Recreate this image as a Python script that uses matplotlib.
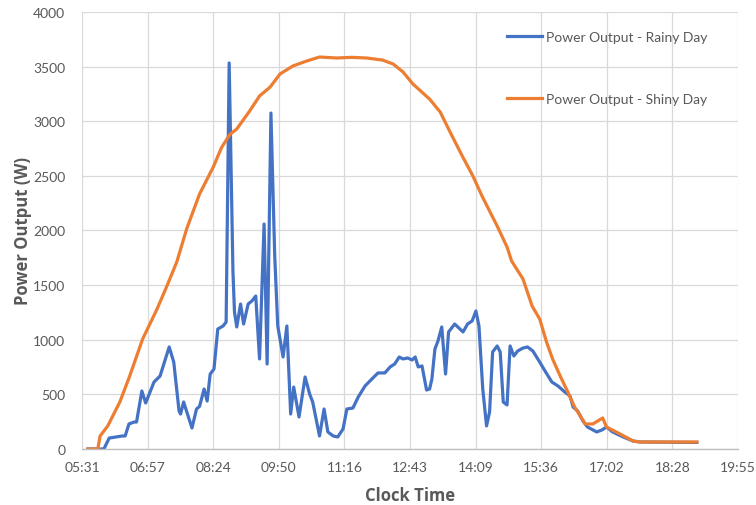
import matplotlib
matplotlib.use("Agg")
import matplotlib.pyplot as plt

# readings taken off the reference chart (clock time, watts)
rainy_time = [
    "05:39", "06:00", "06:07", "06:24", "06:28", "06:33", "06:40", "06:43",
    "06:50", "06:55", "07:06", "07:14", "07:26", "07:32", "07:39", "07:41",
    "07:45", "07:56", "08:02", "08:06", "08:12", "08:16", "08:20", "08:25",
    "08:30", "08:37", "08:41", "08:45", "08:50", "08:52", "08:55", "09:00",
    "09:04", "09:10", "09:15", "09:20", "09:25", "09:31", "09:35", "09:40",
    "09:45", "09:49", "09:56", "10:01", "10:06", "10:10", "10:17", "10:25",
    "10:31", "10:35", "10:44", "10:50", "10:55", "11:02", "11:08", "11:15",
    "11:20", "11:28", "11:35", "11:44", "11:53", "12:01", "12:10", "12:17",
    "12:23", "12:29", "12:34", "12:40", "12:46", "12:50", "12:54", "12:59",
    "13:05", "13:09", "13:12", "13:16", "13:20", "13:25", "13:30", "13:34",
    "13:42", "13:49", "13:53", "13:59", "14:05", "14:10", "14:14", "14:19",
    "14:24", "14:28", "14:32", "14:38", "14:42", "14:46", "14:51", "14:55",
    "15:00", "15:05", "15:12", "15:18", "15:25", "15:34", "15:41", "15:50",
    "15:58", "16:07", "16:14", "16:18", "16:24", "16:31", "16:37", "16:49",
    "16:56", "17:02", "17:10", "17:24", "17:37", "17:46", "19:01",
]
rainy_power = [
    0, 0, 100, 119, 119, 229, 247, 247,
    531, 421, 613, 668, 934, 796, 348, 320,
    430, 192, 366, 390, 549, 439, 686, 732,
    1098, 1126, 1162, 3533, 1620, 1254, 1117, 1327,
    1144, 1327, 1355, 1400, 824, 2059, 778, 3075,
    1767, 1126, 842, 1126, 320, 567, 293, 659,
    503, 430, 119, 366, 156, 119, 110, 183,
    366, 375, 476, 577, 641, 696, 696, 751,
    778, 842, 824, 833, 815, 842, 751, 760,
    540, 549, 641, 915, 988, 1117, 686, 1071,
    1144, 1098, 1071, 1144, 1172, 1263, 1126, 549,
    211, 339, 888, 943, 888, 430, 403, 943,
    851, 897, 924, 934, 897, 796, 714, 613,
    577, 522, 485, 384, 348, 256, 201, 156,
    174, 201, 156, 110, 73, 64, 60,
]

shiny_time = [
    "05:39", "05:52", "05:55", "06:05", "06:21", "06:34", "06:51", "07:10",
    "07:23", "07:36", "07:49", "08:06", "08:24", "08:35", "08:46", "08:55",
    "09:12", "09:25", "09:39", "09:52", "10:09", "10:27", "10:44", "11:07",
    "11:26", "11:46", "12:07", "12:21", "12:34", "12:47", "13:09", "13:23",
    "13:36", "13:52", "14:06", "14:18", "14:38", "14:51", "14:57", "15:12",
    "15:24", "15:34", "15:43", "15:51", "16:01", "16:11", "16:20", "16:34",
    "16:44", "16:57", "17:02", "17:20", "17:37", "17:46", "19:01",
]
shiny_power = [
    0, 0, 119, 210, 430, 668, 1006, 1281,
    1492, 1712, 2014, 2334, 2580, 2760, 2880, 2929,
    3094, 3231, 3313, 3433, 3506, 3551, 3588, 3579,
    3585, 3579, 3560, 3524, 3451, 3341, 3203, 3084,
    2901, 2682, 2499, 2316, 2041, 1849, 1721, 1556,
    1309, 1190, 979, 824, 668, 522, 384, 229,
    229, 284, 201, 137, 73, 64, 64,
]

tick_labels = ["05:31", "06:57", "08:24", "09:50", "11:16", "12:43",
               "14:09", "15:36", "17:02", "18:28", "19:55"]


def to_minutes(stamp):
    h, m = stamp.split(":")
    return int(h) * 60 + int(m)


def main():
    plt.rcParams["font.family"] = ["Lato", "DejaVu Sans"]
    grey = "#595959"
    title_font = ["Open Sans", "DejaVu Sans"]

    fig = plt.figure(figsize=(7.56, 5.06), dpi=100)
    ax = fig.add_axes([0.1085, 0.1107, 0.8677, 0.8636])

    ax.plot([to_minutes(t) for t in rainy_time], rainy_power,
            color="#4472C4", lw=2.3, solid_joinstyle="round",
            label="Power Output - Rainy Day")
    ax.plot([to_minutes(t) for t in shiny_time], shiny_power,
            color="#ED7D31", lw=2.3, solid_joinstyle="round",
            label="Power Output - Shiny Day")

    # excel date axis: major unit 0.06 day = 86.4 min starting 05:31
    start = 331.2
    ticks = [start + 86.4 * i for i in range(len(tick_labels))]
    ax.set_xlim(ticks[0], ticks[-1])
    ax.set_xticks(ticks)
    ax.set_xticklabels(tick_labels)
    ax.set_ylim(0, 4000)
    ax.set_yticks(range(0, 4001, 500))

    ax.grid(True, color="#d9d9d9", lw=0.9)
    ax.set_axisbelow(True)
    for side in ["left", "right", "top"]:
        ax.spines[side].set_visible(False)
    ax.spines["bottom"].set_color("#bfbfbf")
    ax.spines["bottom"].set_linewidth(1.0)
    ax.tick_params(length=0, labelsize=10, colors=grey)
    ax.tick_params(axis="y", pad=12)
    ax.tick_params(axis="x", pad=9)

    ax.set_xlabel("Clock Time", fontsize=12, fontweight="bold",
                  family=title_font, color=grey, labelpad=9)
    ax.set_ylabel("Power Output (W)", fontsize=12, fontweight="bold",
                  family=title_font, color=grey, labelpad=0.5)

    leg = ax.legend(loc="upper right", bbox_to_anchor=(0.972, 0.985),
                    frameon=False, fontsize=10, labelspacing=3.6,
                    handlelength=2.5, handletextpad=0.3)
    for txt in leg.get_texts():
        txt.set_color(grey)

    fig.savefig("out.png", dpi=100)


if __name__ == "__main__":
    main()
